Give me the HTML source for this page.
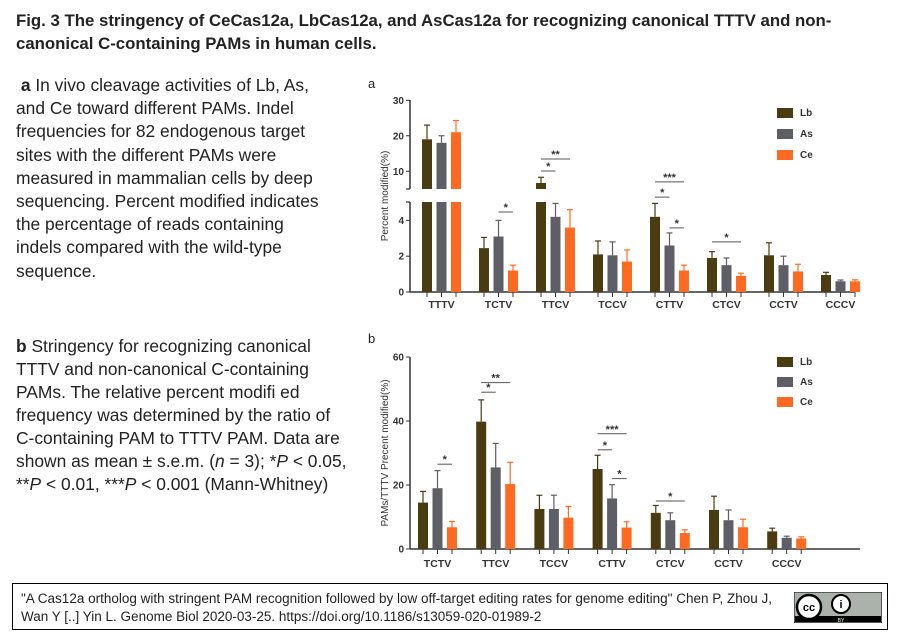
<!DOCTYPE html>
<html><head><meta charset="utf-8">
<style>
body{margin:0;background:#fff;width:898px;height:637px;overflow:hidden;position:relative;font-family:"Liberation Sans",Arial,sans-serif;color:#222}
.title{position:absolute;left:16px;top:9px;font-weight:bold;font-size:16.8px;line-height:23px;white-space:nowrap}
.para{position:absolute;left:16px;font-size:17.4px;line-height:23.2px;white-space:nowrap;color:#222}
.cite{position:absolute;left:12px;top:583px;width:876px;height:47px;border:1px solid #000;box-sizing:border-box}
.cite p{margin:0;position:absolute;left:8px;top:6px;font-size:13.5px;line-height:18px;white-space:nowrap}
svg{position:absolute;left:0;top:0}
</style></head><body>
<div class="title">Fig. 3 The stringency of CeCas12a, LbCas12a, and AsCas12a for recognizing canonical TTTV and non-<br>canonical C-containing PAMs in human cells.</div>
<div class="para" style="top:74px">&nbsp;<b>a</b> In vivo cleavage activities of Lb, As,<br>and Ce toward different PAMs. Indel<br>frequencies for 82 endogenous target<br>sites with the different PAMs were<br>measured in mammalian cells by deep<br>sequencing. Percent modified indicates<br>the percentage of reads containing<br>indels compared with the wild-type<br>sequence.</div>
<div class="para" style="top:335px;line-height:23px"><b>b</b> Stringency for recognizing canonical<br>TTTV and non-canonical C-containing<br>PAMs. The relative percent modifi ed<br>frequency was determined by the ratio of<br>C-containing PAM to TTTV PAM. Data are<br>shown as mean ± s.e.m. (<i>n</i> = 3); *<i>P</i> &lt; 0.05,<br>**<i>P</i> &lt; 0.01, ***<i>P</i> &lt; 0.001 (Mann-Whitney)</div>
<div class="cite"><p>"A Cas12a ortholog with stringent PAM recognition followed by low off-target editing rates for genome editing" Chen P, Zhou J,<br>Wan Y [..] Yin L. Genome Biol 2020-03-25. https://doi.org/10.1186/s13059-020-01989-2</p>
<svg style="left:781px;top:8px" width="88" height="31"><rect x="0" y="0" width="88" height="31" fill="#aab2ab" stroke="#000"/><rect x="1" y="24" width="86" height="6" fill="#000"/><circle cx="15" cy="15" r="12" fill="#fff" stroke="#000" stroke-width="2.5"/><text x="15" y="19" font-size="11" font-weight="bold" text-anchor="middle" font-family="Liberation Sans">cc</text><circle cx="47" cy="12" r="9" fill="#fff" stroke="#000" stroke-width="2"/><text x="47" y="16" font-size="11" font-weight="bold" text-anchor="middle">i</text><text x="47" y="30" font-size="5" fill="#fff" text-anchor="middle">BY</text></svg></div>
<svg id="chart" width="898" height="580"></svg>
<script>
const catsA=["TTTV","TCTV","TTCV","TCCV","CTTV","CTCV","CCTV","CCCV"];
const lbA=[19,2.45,6.7,2.1,4.2,1.9,2.05,0.95];
const asA=[18,3.1,4.2,2.05,2.6,1.5,1.5,0.6];
const ceA=[21,1.2,3.6,1.7,1.2,0.9,1.15,0.6];
const lbAErr=[4,0.6,1.6,0.75,0.75,0.35,0.7,0.15];
const asAErr=[2,0.9,0.75,0.75,0.7,0.4,0.5,0.07];
const ceAErr=[3.3,0.3,1,0.65,0.3,0.15,0.4,0.08];
const ticksALow=[0,2,4];
const ticksAHigh=[10,20,30];
const sigA=[[1,1,2,4.47,"*"],[2,0,2,7.43,"**"],[2,0,1,6.76,"*"],[4,0,2,6.15,"***"],[4,0,1,5.3,"*"],[4,1,2,3.58,"*"],[5,0,2,2.8,"*"]];
const catsB=["TCTV","TTCV","TCCV","CTTV","CTCV","CCTV","CCCV"];
const lbB=[14.5,39.8,12.5,25,11.3,12.2,5.5];
const asB=[19,25.5,12.5,15.8,9,9,3.5];
const ceB=[6.8,20.3,9.8,6.7,5,6.8,3.3];
const lbBErr=[3.5,6.8,4.3,4.3,2.3,4.3,1];
const asBErr=[5.5,7.5,4.3,4.3,2.3,3.2,0.5];
const ceBErr=[1.8,6.8,3.5,1.8,1,2.5,0.5];
const ticksB=[0,20,40,60];
const sigB=[[0,1,2,26.5,"*"],[1,0,2,52,"**"],[1,0,1,49,"*"],[3,0,2,36,"***"],[3,0,1,31,"*"],[3,1,2,22,"*"],[4,0,2,15,"*"]];
const series=["Lb","As","Ce"];
const colors=["#4a3b10","#5e5e66","#ff6a22"];

const svg=document.getElementById('chart');
const NS="http://www.w3.org/2000/svg";
function mk(t,a,txt){const e=document.createElementNS(NS,t);for(const k in a)e.setAttribute(k,a[k]);if(txt!=null)e.textContent=txt;svg.appendChild(e);return e;}
const ax="#333";

const aX0=410,aStep=57,aFirst=422,bw=10,bs=14.5;
const yLow=v=>292-v*17.9;
const yHigh=v=>189-(v-5)*3.55;
const xA=(c,s)=>aFirst+c*aStep+s*bs;
let e;
e=mk('text',{x:368,y:88,'font-size':13,fill:'#222'},'a');
function axes(x,yt,yb){e=mk('line',{x1:x,y1:yt,x2:x,y2:yb,stroke:ax,'stroke-width':1.5});}
axes(aX0,100,189);axes(aX0,202,292);
mk('line',{x1:aX0-4,y1:189,x2:aX0,y2:189,stroke:ax,'stroke-width':1.2});
mk('line',{x1:aX0-4,y1:202,x2:aX0,y2:202,stroke:ax,'stroke-width':1.2});
e=mk('line',{x1:aX0,y1:292,x2:855,y2:292,stroke:ax,'stroke-width':1.5});
ticksALow.forEach(t=>{mk('line',{x1:aX0-4,y1:yLow(t),x2:aX0,y2:yLow(t),stroke:ax});e=mk('text',{x:aX0-6,y:yLow(t)+3.5,'font-size':10,'font-weight':'bold','text-anchor':'end',fill:'#333'},t);});
ticksAHigh.forEach(t=>{mk('line',{x1:aX0-4,y1:yHigh(t),x2:aX0,y2:yHigh(t),stroke:ax});e=mk('text',{x:aX0-6,y:yHigh(t)+3.5,'font-size':10,'font-weight':'bold','text-anchor':'end',fill:'#333'},t);});
e=mk('text',{x:0,y:0,'font-size':10,'text-anchor':'middle',fill:'#333',transform:'translate(388,196) rotate(-90)'},'Percent modified(%)');
const dataA=[lbA,asA,ceA],errA=[lbAErr,asAErr,ceAErr];
catsA.forEach((c,i)=>{
  dataA.forEach((arr,s)=>{
    const v=arr[i],er=errA[s][i],x=xA(i,s);
    const cx=x+bw/2;
    if(v<=5){e=mk('rect',{x:x,y:yLow(v),width:bw,height:292-yLow(v),fill:colors[s]});}
    else{e=mk('rect',{x:x,y:202,width:bw,height:90,fill:colors[s]});
      
      e=mk('rect',{x:x,y:yHigh(v),width:bw,height:189-yHigh(v),fill:colors[s]});}
    
    const yt=v<=5?yLow(v):yHigh(v), ye=(v+er)<=5?yLow(v+er):yHigh(v+er);
    mk('line',{x1:cx,y1:yt,x2:cx,y2:ye,stroke:colors[s],'stroke-width':1.2});
    mk('line',{x1:cx-3,y1:ye,x2:cx+3,y2:ye,stroke:colors[s],'stroke-width':1.2});
    mk('line',{x1:cx,y1:292,x2:cx,y2:297,stroke:ax});
  });
  e=mk('text',{x:xA(i,1)+bw/2,y:308,'font-size':10.5,'font-weight':'bold','text-anchor':'middle',fill:'#333'},c);
});
sigA.forEach(([c,a,b,l,t])=>{const y=yLow(l);e=mk('line',{x1:xA(c,a)+bw/2,y1:y,x2:xA(c,b)+bw/2,y2:y,stroke:'#555'});
  mk('text',{x:(xA(c,a)+xA(c,b))/2+bw/2,y:y-1,'font-size':11,'font-weight':'bold','text-anchor':'middle',fill:'#333'},t);});

const bX0=410,bStep=58.2,bFirst=418;
const yB=v=>549-v*3.2;
const xB=(c,s)=>bFirst+c*bStep+s*bs;
e=mk('text',{x:368,y:343,'font-size':13,fill:'#222'},'b');
axes(bX0,357,549);
e=mk('line',{x1:bX0,y1:549,x2:860,y2:549,stroke:ax,'stroke-width':1.5});
ticksB.forEach(t=>{mk('line',{x1:bX0-4,y1:yB(t),x2:bX0,y2:yB(t),stroke:ax});e=mk('text',{x:bX0-6,y:yB(t)+3.5,'font-size':10,'font-weight':'bold','text-anchor':'end',fill:'#333'},t);});
e=mk('text',{x:0,y:0,'font-size':10,'text-anchor':'middle',fill:'#333',transform:'translate(388,453) rotate(-90)'},'PAMs/TTTV Precent modified(%)');
const dataB=[lbB,asB,ceB],errB=[lbBErr,asBErr,ceBErr];
catsB.forEach((c,i)=>{
  dataB.forEach((arr,s)=>{
    const v=arr[i],er=errB[s][i],x=xB(i,s),cx=x+bw/2;
    e=mk('rect',{x:x,y:yB(v),width:bw,height:549-yB(v),fill:colors[s]});
    
    mk('line',{x1:cx,y1:yB(v),x2:cx,y2:yB(v+er),stroke:colors[s],'stroke-width':1.2});
    mk('line',{x1:cx-3,y1:yB(v+er),x2:cx+3,y2:yB(v+er),stroke:colors[s],'stroke-width':1.2});
    mk('line',{x1:cx,y1:549,x2:cx,y2:554,stroke:ax});
  });
  e=mk('text',{x:xB(i,1)+bw/2,y:567,'font-size':10.5,'font-weight':'bold','text-anchor':'middle',fill:'#333'},c);
});
sigB.forEach(([c,a,b,l,t])=>{const y=yB(l);e=mk('line',{x1:xB(c,a)+bw/2,y1:y,x2:xB(c,b)+bw/2,y2:y,stroke:'#555'});
  mk('text',{x:(xB(c,a)+xB(c,b))/2+bw/2,y:y-1,'font-size':11,'font-weight':'bold','text-anchor':'middle',fill:'#333'},t);});

[[108,21],[357,20]].forEach(([y0,g])=>{
  series.forEach((s,k)=>{
    e=mk('rect',{x:777,y:y0+k*g,width:16,height:10,fill:colors[k]});
    e=mk('text',{x:800,y:y0+k*g+8,'font-size':10,'font-weight':'bold',fill:'#333'},s);
  });
});
</script>
</body></html>
